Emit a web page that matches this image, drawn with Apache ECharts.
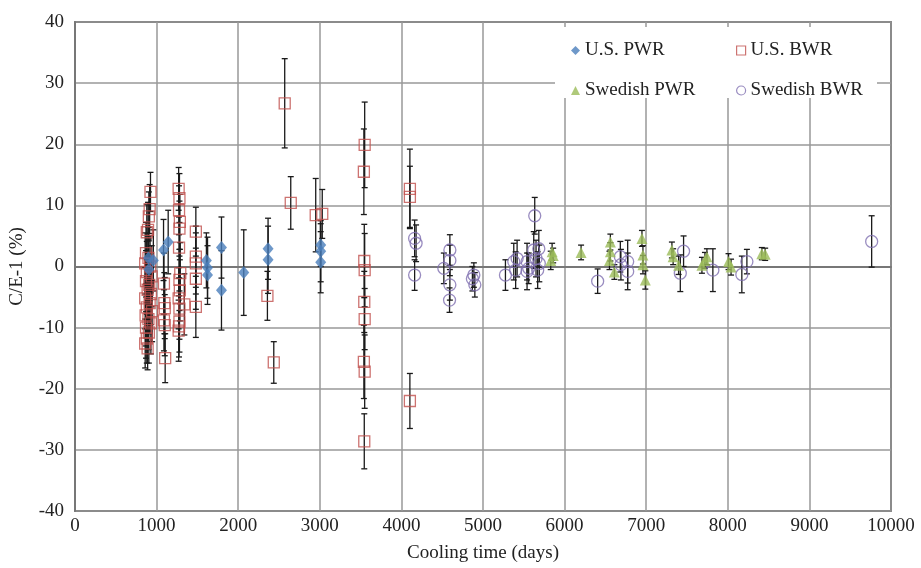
<!DOCTYPE html>
<html>
<head>
<meta charset="utf-8">
<script src="https://cdn.jsdelivr.net/npm/echarts@6/dist/echarts.min.js"></script>
<style>
  html, body { margin: 0; padding: 0; background: #fff; }
  #chart { width: 921px; height: 568px; }
</style>
</head>
<body>
<div id="chart"></div>
<script>
// [cooling time (days), C/E-1 (%), error half-width]
const usPwr = [
  [900, 1.4, 5], [960, 1.0, 5], [905, -0.5, 5], [1085, 2.7, 5], [1142, 4.0, 5.2],
  [1624, -0.2, 5], [1624, -1.4, 4.8], [1610, 1.0, 4.5], [1795, 3.1, 5], [1795, -3.9, 6.5],
  [2068, -1.0, 7], [2366, 2.9, 5], [2366, 1.1, 5.5], [3011, 3.5, 3.5], [3011, 2.5, 5], [3011, 0.7, 5]
]
const usBwr = [
  [925, 12.2, 3.2], [915, 9.4, 4], [905, 8.2, 4], [895, 6.0, 4.5], [880, 5.6, 4.5], [870, 2.2, 5],
  [900, 1.4, 5], [860, 0.5, 5], [920, 0.0, 5], [880, -0.9, 5], [940, -1.6, 5], [870, -2.4, 5],
  [910, -3.0, 5], [890, -3.8, 5], [930, -4.5, 5], [860, -5.2, 5], [915, -6.0, 5], [880, -6.7, 5],
  [945, -7.3, 5], [865, -8.0, 5], [900, -8.6, 5], [930, -9.3, 5], [870, -10.0, 5], [905, -10.8, 5],
  [880, -11.8, 4], [860, -12.6, 4], [890, -13.4, 3.5],
  [1090, -2.8, 5], [1095, -6.0, 5], [1100, -6.8, 5], [1090, -8.8, 5], [1100, -9.6, 5], [1105, -15.0, 4],
  [1270, 12.7, 3.5], [1280, 11.2, 4], [1275, 9.2, 4], [1285, 7.3, 4.5], [1280, 6.2, 4.5], [1275, 3.1, 5],
  [1290, -1.1, 5], [1280, -2.2, 5], [1285, -3.9, 5], [1270, -5.2, 5], [1280, -6.9, 5], [1280, -9.0, 5],
  [1275, -9.8, 5], [1270, -10.5, 5], [1340, -6.2, 5],
  [1481, 5.7, 4], [1481, 1.6, 5], [1481, 0.5, 5], [1481, -2.0, 5], [1481, -6.6, 5],
  [2358, -4.8, 4], [2436, -15.7, 3.4], [2570, 26.7, 7.3], [2644, 10.4, 4.3], [2950, 8.4, 6], [3030, 8.6, 4],
  [3550, 19.9, 7], [3540, 15.5, 7], [3545, 0.9, 6], [3550, -0.6, 6], [3545, -5.8, 5], [3550, -8.6, 5],
  [3540, -15.6, 6], [3550, -17.2, 6], [3545, -28.6, 4.5],
  [4104, 12.7, 6.5], [4104, 11.4, 5], [4104, -22.0, 4.5]
]
const swedishPwr = [
  [5847, 2.4, 1.4], [5830, 1.0, 1.5], [5860, 1.8, 1.2], [6202, 2.3, 1.2], [6561, 4.0, 1.3],
  [6561, 2.4, 1.5], [6550, 1.0, 1.5], [6610, -0.9, 1.2], [6948, 4.6, 1.3], [6960, 1.9, 1.5],
  [6960, 0.3, 1.5], [6989, -2.2, 1.5], [7315, 2.7, 1.3], [7330, 1.6, 1.3], [7397, 0.2, 1.5],
  [7683, 0.2, 1.3], [7744, 1.6, 1.3], [7720, 1.0, 1.3], [8009, 0.8, 1.3], [8040, -0.1, 1.3],
  [8417, 2.1, 1], [8458, 2.0, 1]
]
const swedishBwr = [
  [4162, 4.6, 3], [4180, 3.8, 3], [4162, -1.4, 2.5], [4594, 2.7, 2.5], [4594, 1.0, 2.5],
  [4520, -0.3, 2.5], [4594, -3.0, 2.5], [4590, -5.5, 2], [4888, -1.4, 2], [4900, -3.0, 2],
  [4870, -2.0, 2], [5275, -1.4, 2.5], [5418, 1.3, 3], [5400, -0.6, 3], [5377, 0.8, 3],
  [5540, 0.8, 3], [5540, -0.8, 3], [5560, -0.3, 2.5], [5634, 8.3, 3], [5622, 2.7, 3],
  [5650, 1.3, 3], [5684, 2.9, 3], [5690, 0.5, 3], [5670, -0.6, 3], [6405, -2.4, 2],
  [6683, 1.6, 2.5], [6690, 0.3, 2.5], [6773, 0.8, 3.5], [6773, -0.8, 3], [7458, 2.5, 2.5],
  [7418, -1.1, 3], [7817, -0.6, 3.5], [8234, 0.8, 2], [8172, -1.3, 3], [9763, 4.1, 4.2]
]

const xTicks = { min: 0, max: 10000, interval: 1000 }
const yTicks = { min: -40, max: 40, interval: 10 }

const font = '"Liberation Serif", "Times New Roman", serif'
const chart = echarts.init(document.getElementById('chart'))

// error bars with caps
const renderErr = (params, api) => {
  const x = api.value(0)
  const y = api.value(1)
  const e = api.value(2)
  const lo = api.coord([x, y - e])
  const hi = api.coord([x, y + e])
  const w = 3
  const style = { stroke: '#1a1a1a', lineWidth: 1.3 }
  return {
    type: 'group',
    children: [
      { type: 'line', shape: { x1: lo[0], y1: lo[1], x2: hi[0], y2: hi[1] }, style },
      { type: 'line', shape: { x1: lo[0] - w, y1: lo[1], x2: lo[0] + w, y2: lo[1] }, style },
      { type: 'line', shape: { x1: hi[0] - w, y1: hi[1], x2: hi[0] + w, y2: hi[1] }, style }
    ]
  }
}

const pts = arr => arr.map(d => [d[0], d[1]])

const legendText = { fontFamily: font, fontSize: 19, color: '#222' }
const mkLegend = (name, left, top, icon, itemStyle) => ({
  left, top, z: 10,
  itemWidth: 9, itemHeight: 9, itemGap: 0,
  selectedMode: false,
  textStyle: legendText,
  data: [{ name, icon, itemStyle }]
})

const option = {
  animation: false,
  backgroundColor: '#fff',
  grid: {
    left: 74, right: 30, top: 22, bottom: 56,
    show: true, borderColor: '#333', borderWidth: 1.5
  },
  legend: [
    mkLegend('U.S. PWR', 566, 36, 'diamond', { color: '#4a7ebb' }),
    mkLegend('U.S. BWR', 731, 36, 'rect', { color: '#fff', borderColor: '#c0504d', borderWidth: 1.2 }),
    mkLegend('Swedish PWR', 566, 76, 'triangle', { color: '#9bbb59' }),
    mkLegend('Swedish BWR', 731, 76, 'circle', { color: '#fff', borderColor: '#7f6fb0', borderWidth: 1.2 })
  ],
  graphic: [{
    type: 'rect', z: 5,
    shape: { x: 555, y: 27, width: 322, height: 71 },
    style: { fill: '#fff' }
  }],
  xAxis: {
    type: 'value',
    min: xTicks.min, max: xTicks.max, interval: xTicks.interval,
    name: 'Cooling time (days)',
    nameLocation: 'middle',
    nameGap: 33,
    nameTextStyle: { fontFamily: font, fontSize: 19, color: '#222' },
    axisLine: { lineStyle: { color: '#777', width: 2 } },
    axisTick: { show: false },
    axisLabel: { fontFamily: font, fontSize: 19, color: '#222', margin: 6, formatter: v => String(v) },
    splitLine: { lineStyle: { color: '#999', width: 1.5 } }
  },
  yAxis: {
    type: 'value',
    min: yTicks.min, max: yTicks.max, interval: yTicks.interval,
    name: 'C/E-1 (%)',
    nameLocation: 'middle',
    nameGap: 48,
    nameTextStyle: { fontFamily: font, fontSize: 19, color: '#222' },
    axisLine: { show: true, lineStyle: { color: '#777', width: 2 } },
    axisTick: { show: false },
    axisLabel: { fontFamily: font, fontSize: 19, color: '#222', margin: 11 },
    splitLine: { lineStyle: { color: '#999', width: 1.5 } }
  },
  series: [
    {
      name: 'errors',
      type: 'custom',
      renderItem: renderErr,
      encode: { x: 0, y: 1 },
      z: 2,
      data: [].concat(usPwr, usBwr, swedishPwr, swedishBwr)
    },
    {
      name: 'U.S. BWR',
      type: 'scatter',
      symbol: 'rect',
      symbolSize: 11,
      z: 3,
      itemStyle: { color: 'rgba(255,255,255,0)', borderColor: '#c0504d', borderWidth: 1.3 },
      data: pts(usBwr)
    },
    {
      name: 'Swedish BWR',
      type: 'scatter',
      symbol: 'circle',
      symbolSize: 12,
      z: 3,
      itemStyle: { color: 'rgba(255,255,255,0)', borderColor: '#7f6fb0', borderWidth: 1.3 },
      data: pts(swedishBwr)
    },
    {
      name: 'U.S. PWR',
      type: 'scatter',
      symbol: 'diamond',
      symbolSize: [11, 13],
      z: 4,
      itemStyle: { color: '#4a7ebb' },
      data: pts(usPwr)
    },
    {
      name: 'Swedish PWR',
      type: 'scatter',
      symbol: 'triangle',
      symbolSize: 11,
      z: 4,
      itemStyle: { color: '#9bbb59' },
      data: pts(swedishPwr)
    }
  ]
}

chart.setOption(option)
</script>
</body>
</html>
